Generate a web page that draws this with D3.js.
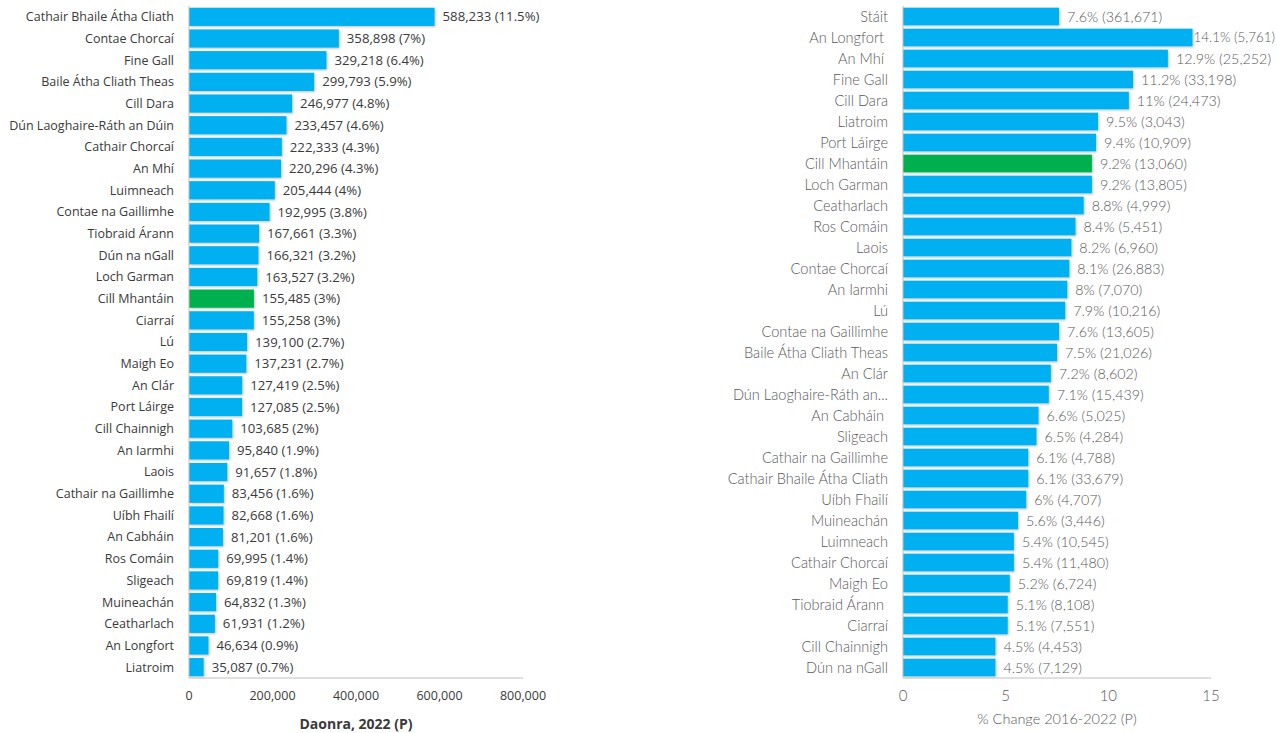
<!DOCTYPE html>
<html>
<head>
<meta charset="utf-8">
<script src="https://cdn.jsdelivr.net/npm/d3@7"></script>
<style>
  body { margin: 0; background: #fff; }
  .left text { font-family: "Open Sans", sans-serif; fill: #3a3a3a; }
  .right text { font-family: "Lato Light", "Lato", sans-serif; font-weight: 300; fill: #595959; }
  text { white-space: pre; }
</style>
</head>
<body>
<div id="chart"></div>
<script>
// Width and height
const w = 1277;
const h = 733;

// left chart: population 2022
const popNames = ["Cathair Bhaile Átha Cliath", "Contae Chorcaí", "Fine Gall", "Baile Átha Cliath Theas",
  "Cill Dara", "Dún Laoghaire-Ráth an Dúin", "Cathair Chorcaí", "An Mhí", "Luimneach",
  "Contae na Gaillimhe", "Tiobraid Árann", "Dún na nGall", "Loch Garman", "Cill Mhantáin",
  "Ciarraí", "Lú", "Maigh Eo", "An Clár", "Port Láirge", "Cill Chainnigh", "An Iarmhi", "Laois",
  "Cathair na Gaillimhe", "Uíbh Fhailí", "An Cabháin", "Ros Comáin", "Sligeach", "Muineachán",
  "Ceatharlach", "An Longfort", "Liatroim"];
const popValues = [588233, 358898, 329218, 299793, 246977, 233457, 222333, 220296, 205444,
  192995, 167661, 166321, 163527, 155485, 155258, 139100, 137231, 127419, 127085, 103685,
  95840, 91657, 83456, 82668, 81201, 69995, 69819, 64832, 61931, 46634, 35087];
const popShare = [11.5, 7, 6.4, 5.9, 4.8, 4.6, 4.3, 4.3, 4, 3.8, 3.3, 3.2, 3.2, 3, 3, 2.7, 2.7,
  2.5, 2.5, 2, 1.9, 1.8, 1.6, 1.6, 1.6, 1.4, 1.4, 1.3, 1.2, 0.9, 0.7];
const popTicks = [0, 200000, 400000, 600000, 800000];

// right chart: % change 2016-2022
const chgNames = ["Stáit", "An Longfort ", "An Mhí ", "Fine Gall", "Cill Dara", "Liatroim",
  "Port Láirge", "Cill Mhantáin", "Loch Garman", "Ceatharlach", "Ros Comáin", "Laois",
  "Contae Chorcaí", "An Iarmhi", "Lú", "Contae na Gaillimhe", "Baile Átha Cliath Theas",
  "An Clár", "Dún Laoghaire-Ráth an...", "An Cabháin ", "Sligeach", "Cathair na Gaillimhe",
  "Cathair Bhaile Átha Cliath", "Uíbh Fhailí", "Muineachán", "Luimneach", "Cathair Chorcaí",
  "Maigh Eo", "Tiobraid Árann ", "Ciarraí", "Cill Chainnigh", "Dún na nGall"];
const chgPct = [7.6, 14.1, 12.9, 11.2, 11, 9.5, 9.4, 9.2, 9.2, 8.8, 8.4, 8.2, 8.1, 8, 7.9, 7.6,
  7.5, 7.2, 7.1, 6.6, 6.5, 6.1, 6.1, 6, 5.6, 5.4, 5.4, 5.2, 5.1, 5.1, 4.5, 4.5];
const chgAbs = [361671, 5761, 25252, 33198, 24473, 3043, 10909, 13060, 13805, 4999, 5451, 6960,
  26883, 7070, 10216, 13605, 21026, 8602, 15439, 5025, 4284, 4788, 33679, 4707, 3446, 10545,
  11480, 6724, 8108, 7551, 4453, 7129];
const chgTicks = [0, 5, 10, 15];

const highlight = "Cill Mhantáin";
const blue = "#00B0F0";
const green = "#00B050";
const fmt = d3.format(",");

const svg = d3.select("#chart").append("svg").attr("width", w).attr("height", h);

// soft shadow like the original bars
svg.append("defs").append("filter")
  .attr("id", "shadow")
  .attr("x", "-5%").attr("y", "-20%").attr("width", "115%").attr("height", "150%")
  .append("feDropShadow")
  .attr("dx", 1).attr("dy", 1).attr("stdDeviation", 0.8)
  .attr("flood-color", "#000").attr("flood-opacity", 0.25);

function drawPanel(cfg) {
  const g = svg.append("g").attr("class", cfg.cls);
  const x = d3.scaleLinear().domain(cfg.domain).range([cfg.x0, cfg.x1]);
  const y = d3.scaleBand().domain(d3.range(cfg.names.length)).range([6, 678]).paddingInner(cfg.pad).paddingOuter(cfg.pad / 2);

  // bars
  g.selectAll("rect.bar")
    .data(cfg.values)
    .enter()
    .append("rect")
    .attr("class", "bar")
    .attr("x", x(0))
    .attr("y", (d, i) => y(i))
    .attr("width", (d) => x(d) - x(0))
    .attr("height", y.bandwidth())
    .attr("fill", (d, i) => (cfg.names[i].trim() === highlight ? green : blue))
    .attr("filter", "url(#shadow)");

  // category labels
  g.selectAll("text.cat")
    .data(cfg.names)
    .enter()
    .append("text")
    .attr("class", "cat")
    .attr("x", cfg.labelX)
    .attr("y", (d, i) => y(i) + y.bandwidth() / 2)
    .attr("dy", "0.35em")
    .attr("text-anchor", "end")
    .style("font-size", cfg.fontSize + "px")
    .text((d) => d);

  // value labels (pulled in near the right edge, shrunk if they still don't fit)
  g.selectAll("text.val")
    .data(cfg.values)
    .enter()
    .append("text")
    .attr("class", "val")
    .attr("y", (d, i) => y(i) + y.bandwidth() / 2)
    .attr("dy", "0.35em")
    .style("font-size", cfg.valSize + "px")
    .text((d, i) => cfg.label(i))
    .each(function (d) {
      const t = d3.select(this);
      let len = this.getComputedTextLength();
      const room = w - 2 - (x(d) + 1);
      if (len > room) {
        t.style("font-size", (cfg.valSize * room) / len + "px");
        len = this.getComputedTextLength();
      }
      t.attr("x", Math.max(x(d) + 1, Math.min(x(d) + 8, w - 2 - len)));
    });

  // axis lines
  g.append("line")
    .attr("x1", x(0)).attr("x2", x(0)).attr("y1", 6).attr("y2", 678)
    .attr("stroke", "#bfbfbf");
  g.append("line")
    .attr("x1", x(0)).attr("x2", x(cfg.domain[1])).attr("y1", 678).attr("y2", 678)
    .attr("stroke", "#bfbfbf");

  // tick labels
  g.selectAll("text.tick")
    .data(cfg.ticks)
    .enter()
    .append("text")
    .attr("class", "tick")
    .attr("x", (d) => x(d))
    .attr("y", 696)
    .attr("dy", "0.35em")
    .attr("text-anchor", "middle")
    .style("font-size", cfg.tickSize + "px")
    .text((d) => cfg.tickFmt(d));

  // axis title
  g.append("text")
    .attr("x", (x(0) + x(cfg.domain[1])) / 2)
    .attr("y", cfg.titleY)
    .attr("text-anchor", "middle")
    .style("font-size", cfg.titleSize + "px")
    .style("font-weight", cfg.titleWeight)
    .text(cfg.title);
}

drawPanel({
  cls: "left",
  names: popNames,
  values: popValues,
  domain: [0, 800000],
  x0: 189,
  x1: 523,
  pad: 0.16,
  labelX: 174,
  fontSize: 12.5,
  valSize: 13.2,
  tickSize: 12.5,
  ticks: popTicks,
  tickFmt: fmt,
  label: (i) => `${fmt(popValues[i])} (${popShare[i]}%)`,
  title: "Daonra, 2022 (P)",
  titleY: 729,
  titleSize: 14,
  titleWeight: 700,
});

drawPanel({
  cls: "right",
  names: chgNames,
  values: chgPct,
  domain: [0, 15],
  x0: 903,
  x1: 1211,
  pad: 0.16,
  labelX: 888,
  fontSize: 14.6,
  valSize: 14.3,
  tickSize: 15,
  ticks: chgTicks,
  tickFmt: (d) => d,
  label: (i) => `${chgPct[i]}% (${fmt(chgAbs[i])})`,
  title: "% Change 2016-2022 (P)",
  titleY: 724,
  titleSize: 14.5,
  titleWeight: 300,
});
</script>
</body>
</html>
